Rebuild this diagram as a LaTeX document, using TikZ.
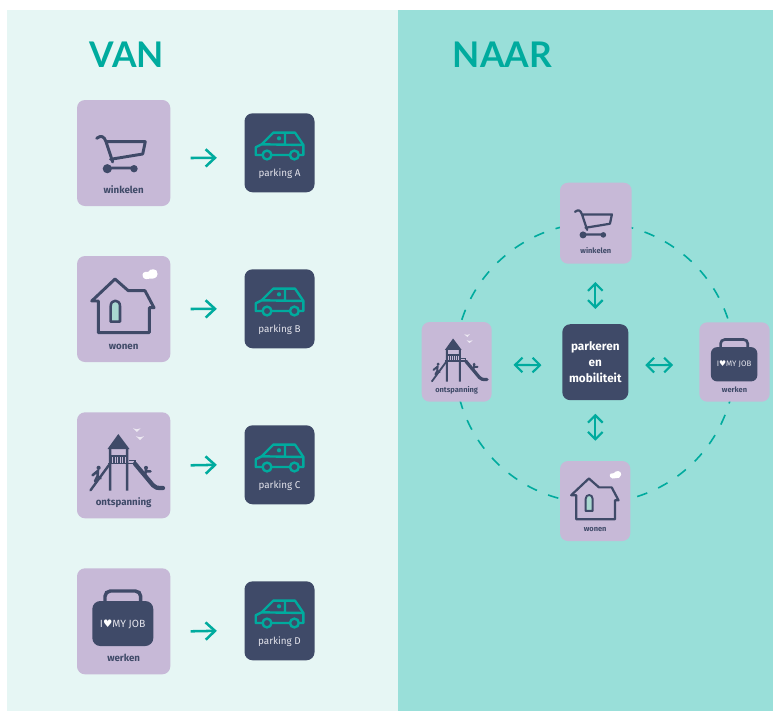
\documentclass[tikz,border=0pt]{standalone}
\usepackage{fontspec}
\setmainfont{Fira Sans}
\newfontfamily\titlefont{Lato}
\newfontfamily\symfont{DejaVu Sans}
\usetikzlibrary{arrows.meta}
\definecolor{bgleft}{HTML}{E6F6F4}
\definecolor{bgright}{HTML}{99DFD9}
\definecolor{tilecol}{HTML}{C7B9D7}
\definecolor{navy}{HTML}{3F4A68}
\definecolor{teal}{HTML}{00AB9E}
\definecolor{doorcol}{HTML}{A9D8D0}
\definecolor{pale}{HTML}{E4E4EC}
\tikzset{
  x=0.75pt,y=-0.75pt,
  tilebox/.style={fill=tilecol,rounded corners=6pt,inner sep=0pt},
  carbox/.style={fill=navy,rounded corners=6pt,inner sep=0pt,minimum width=52.5pt,minimum height=59.2pt},
  biglabel/.style={text=navy,font=\fontsize{7.3pt}{8pt}\selectfont\bfseries,inner sep=0pt,anchor=base},
  smalllabel/.style={text=navy,font=\fontsize{5.6pt}{6pt}\selectfont\bfseries,inner sep=0pt,anchor=base},
  carlabel/.style={text=pale,font=\fontsize{7.4pt}{8pt}\selectfont,inner sep=0pt,anchor=base},
  titletext/.style={text=teal,font=\fontsize{26.5pt}{30pt}\selectfont\titlefont\bfseries,inner sep=0pt},
  oneway/.style={draw=teal,line width=1.9pt,-{Straight Barb[length=7pt,width=13pt]}},
  twoway/.style={draw=teal,line width=1.6pt,{Straight Barb[length=5.5pt,width=11pt]}-{Straight Barb[length=5.5pt,width=11pt]}},
  cart/.pic={
    \draw[navy,line width=#1*2.2pt,line join=round,line cap=round]
      (19.7,38.3) .. controls (24,35) and (27,36) .. (29,41.7) -- (35.7,62)
      (29,41.7) -- (68.3,41.7) -- (65.7,54) -- (33.5,59.3)
      (30,68) -- (57,68);
    \fill[navy] (30.3,68.7) circle (4.6) (57,68.7) circle (3.7);
  },
  house/.pic={
    \draw[navy,line width=#1*2.2pt,line join=round,line cap=round]
      (14.7,45) -- (38,23) -- (51.3,34.7) -- (68,34.7) -- (77,51.7) -- (72.3,51.7)
      -- (72.3,76.7) -- (21.3,76.7) -- (21.3,45) -- cycle;
    \draw[navy,fill=doorcol,line width=#1*1.9pt,line join=round]
      (33.7,65.7) -- (33.7,50) .. controls (33.7,43) and (43,43) .. (43,50) -- (43,65.7) -- cycle;
    \fill[white] (66,21) .. controls (64,17) and (68,15) .. (71,16)
       .. controls (73,12) and (81,12) .. (80.5,18) .. controls (80.5,22) and (76,23) .. (74,22.5)
       .. controls (71,23.5) and (67,23.5) .. (66,21) -- cycle;
  },
  play/.pic={
    \fill[navy] (41.3,21.7) -- (52.5,36.7) -- (30.5,36.7) -- cycle;
    \fill[navy] (31.8,36) rectangle (34.4,78.3) (48.8,36) rectangle (51.4,78.3);
    \fill[navy] (33,42.5) rectangle (50,44);
    \fill[navy] (33,44) rectangle (50,51.5);
    \foreach \sx in {35.5,38,40.5,43,45.5,48}{
      \draw[tilecol,line width=#1*.7pt] (\sx,45) -- (\sx,50.5);
    }
    \fill[navy] (30.7,50.5) rectangle (58,52);
    \draw[navy,line width=#1*.9pt] (52,48.5) -- (58,48.5) -- (58,51);
    \draw[navy,line width=#1*1.8pt,line cap=round] (32,52.7) -- (13.5,78);
    \draw[navy,line width=#1*3.2pt,line join=round,line cap=round] (58,51.5) -- (76,73) .. controls (78,75.5) and (80,75.7) .. (86,75.7);
    % climbing child
    \fill[navy] (21.6,55.5) circle (2.1);
    \draw[navy,line width=#1*1.9pt,line cap=round,line join=round] (21,58) -- (20.5,64) -- (18,69) (21,58.5) -- (15.5,63) (20.5,64) -- (23.5,66);
    % sliding child
    \fill[navy] (69,55.5) circle (2);
    \draw[navy,line width=#1*1.9pt,line cap=round,line join=round] (69,57) -- (68,64) (69,59) -- (73.5,59);
    % birds
    \fill[white!70!tilecol] (56,16) -- (59.7,17) -- (63.5,16) -- (60,19.7) -- cycle;
    \fill[white!70!tilecol] (59,24) -- (63,25) -- (67,24) -- (63,27.7) -- cycle;
  },
  job/.pic={
    \draw[navy,line width=#1*2.6pt,rounded corners=#1*4pt] (28,33) -- (28,22.7) -- (63.7,22.7) -- (63.7,33);
    \fill[navy,rounded corners=#1*6pt] (15.3,32.7) rectangle (76.3,77.7);
    \pgfmathsetmacro\jobfs{7.8*#1}
    \node[text=pale,inner sep=0pt,font=\fontsize{\jobfs pt}{\jobfs pt}\selectfont] (jobtext) at (45.7,55.7)
      {I{\symfont\fontsize{\jobfs pt}{\jobfs pt}\selectfont\color{white}\char"2665}MY JOB};
  },
  carshape/.pic={
    \draw[teal,line width=1.8pt,line join=round]
      (17.5,41.7) -- (11,41.7) -- (11,34) -- (17,31) -- (28.7,19.3) -- (50.3,19.3) -- (58.7,31.7) -- (58.7,41.7) -- (54.5,41.7)
      (45,41.7) -- (27,41.7)
      (17,31) -- (58.7,31.7)
      (40.3,19.3) -- (40.3,31.5);
    \draw[teal,line width=1.8pt] (22.3,41.7) circle (4.4) (49.7,41.7) circle (4.4);
    \fill[teal] (34.3,25) circle (2.1);
  }
}
% name, left, top, width, height, icon, scale, label, label style
\newcommand{\tile}[9]{%
  \node[tilebox,minimum width=#4*0.75pt,minimum height=#5*0.75pt] (#1) at ({#2+#4/2},{#3+#5/2}) {};
  \pic[scale=#7] at (#2,#3) {#6=#7};
  \node[#9] (#1label) at ({#2+#4/2},{#3+#5*0.88}) {#8};
}
\newcommand{\park}[3]{%
  \node[carbox] (#1) at (279.5,{#2+39.5}) {};
  \pic at (244.7,#2) {carshape};
  \node[carlabel] (#1label) at (279.5,{#2+62.7}) {#3};
}
\begin{document}
\begin{tikzpicture}
\useasboundingbox (0,0) rectangle (773,711);
\fill[white] (0,0) rectangle (773,711);
\fill[bgleft] (7,10) rectangle (398,711);
\fill[bgright] (398,10) rectangle (773,711);
\node[titletext] (van) at (127,54.3) {VAN};
\node[titletext] (naar) at (502.5,54.3) {NAAR};

\tile{w1}{77}{100}{93.3}{106}{cart}{1}{winkelen}{biglabel}
\tile{w2}{77}{256}{93.3}{106}{house}{1}{wonen}{biglabel}
\tile{w3}{77}{412.3}{93.3}{106}{play}{1}{ontspanning}{biglabel}
\tile{w4}{77}{568.3}{93.3}{106}{job}{1}{werken}{biglabel}
\park{p1}{113.3}{parking A}
\park{p2}{269.3}{parking B}
\park{p3}{425.3}{parking C}
\park{p4}{581.3}{parking D}
\draw[oneway] ([shift={(20,5)}]w1.east) -- ([shift={(-27.4,5)}]p1.west);
\draw[oneway] ([shift={(20,0)}]w2.east) -- ([shift={(-27.4,0)}]p2.west);
\draw[oneway] ([shift={(20,0)}]w3.east) -- ([shift={(-27.4,0)}]p3.west);
\draw[oneway] ([shift={(20,10)}]w4.east) -- ([shift={(-27.4,10)}]p4.west);

\node[circle,draw=teal,line width=1.2pt,dash pattern=on 8pt off 9pt,minimum size=210pt,inner sep=0pt] (ring) at (595,363) {};
\tile{a1}{560}{182.7}{71.7}{81}{cart}{.76}{winkelen}{smalllabel}
\tile{a2}{560}{461}{70.3}{80}{house}{.76}{wonen}{smalllabel}
\tile{a3}{421.7}{322}{70}{79.7}{play}{.76}{ontspanning}{smalllabel}
\tile{a4}{699.3}{322.3}{70.4}{79.4}{job}{.76}{werken}{smalllabel}
\node[fill=navy,rounded corners=6pt,text=white,align=center,inner sep=0pt,minimum width=49.5pt,minimum height=57pt,
  font=\fontsize{8.8pt}{12pt}\selectfont\bfseries] (hub) at (595.3,362.2) {parkeren\\en\\mobiliteit};
\draw[twoway,shorten >=13.5pt,shorten <=11.25pt] (hub.north) -- (hub.north |- a1.south);
\draw[twoway,shorten >=15pt,shorten <=10pt] (hub.south) -- (hub.south |- a2.north);
\draw[twoway] ([shift={(-20.6,3)}]hub.west) -- ([shift={(21.6,3)}]a3.east);
\draw[twoway] ([shift={(16.7,3)}]hub.east) -- ([shift={(-26,3)}]a4.west);
\end{tikzpicture}
\end{document}
